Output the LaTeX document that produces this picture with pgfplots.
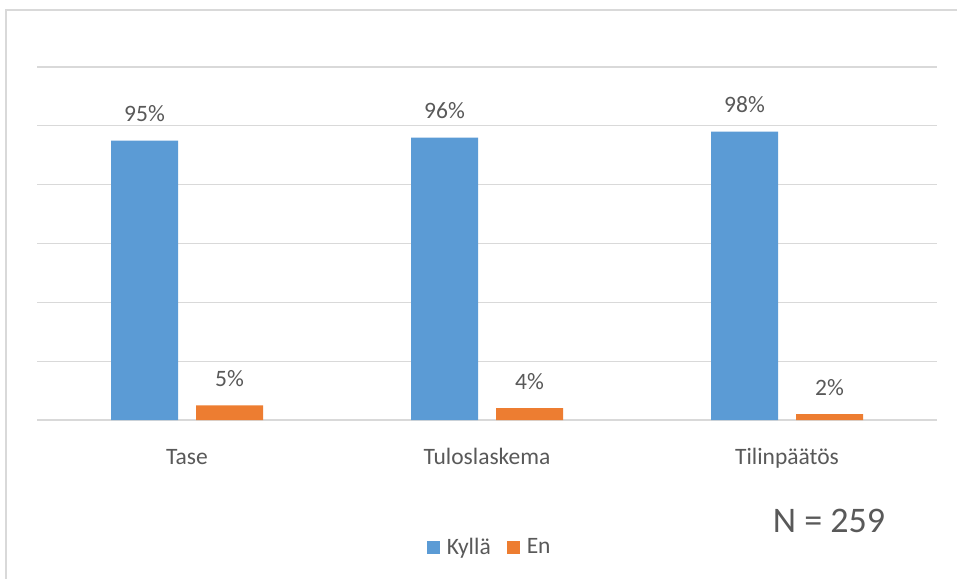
\documentclass[border=0pt]{standalone}
\usepackage{pgfplots}
\pgfplotsset{compat=1.18}
\usepackage{fontspec}
\setmainfont{Carlito}
\definecolor{cblue}{HTML}{5B9BD5}
\definecolor{corange}{HTML}{ED7D31}
\definecolor{ctext}{HTML}{595959}
\definecolor{cgrid}{HTML}{D9D9D9}
\begin{document}
\begin{tikzpicture}[x=1pt,y=1pt]
\useasboundingbox (0,0) rectangle (957,578);
\fill[white] (0,0) rectangle (957,578);
\draw[cgrid, line width=1.6pt] (6,-5) -- (6,568) -- (962,568);
\begin{axis}[
  at={(37pt,158pt)}, anchor=south west,
  scale only axis, width=900pt, height=353pt,
  ybar=18pt, bar width=67pt,
  xmin=-0.5, xmax=2.5, ymin=0, ymax=120,
  xtick={0,1,2}, xticklabels={Tase,Tuloslaskema,Tilinpäätös},
  ytick={0,20,...,120}, yticklabels={},
  ymajorgrids, grid style={cgrid, line width=1.3pt},
  axis line style={draw=none}, tick style={draw=none},
  xticklabel style={anchor=base, yshift=-40pt, font=\fontsize{23.5}{28}\selectfont, text=ctext},
  nodes near coords={\pgfmathprintnumber[assume math mode=true]{\pgfplotspointmeta}\%},
  every node near coord/.append style={anchor=base, inner sep=0pt, yshift=19pt, font=\fontsize{23.5}{28}\selectfont, text=ctext},
  legend style={at={(0.503,-0.36)}, anchor=center, draw=none, fill=none,
    legend columns=2, font=\fontsize{23.5}{28}\selectfont, text=ctext,
    /tikz/every odd column/.append style={column sep=5pt},
    /tikz/every even column/.append style={column sep=14pt}},
  legend image code/.code={\fill[#1] (0pt,-6.5pt) rectangle (13pt,6.5pt);},
]
\addplot[fill=cblue, draw=none] coordinates {(0,95) (1,96) (2,98)};
\addplot[fill=corange, draw=none] coordinates {(0,5) (1,4) (2,2)};
\legend{Kyllä,En}
\end{axis}
\node[text=ctext, font=\fontsize{36}{40}\selectfont] at (829,57) {N = 259};
\end{tikzpicture}
\end{document}
